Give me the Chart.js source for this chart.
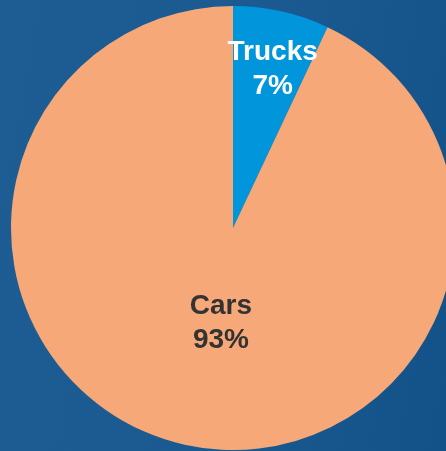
<!DOCTYPE html>
<html>
<head>
<meta charset="utf-8">
<script src="https://cdn.jsdelivr.net/npm/chart.js@4"></script>
<style>
  html, body {
    margin: 0;
    padding: 0;
    width: 446px;
    height: 451px;
    overflow: hidden;
    background: linear-gradient(100deg, #1d5d93 0%, #1a5a90 55%, #125288 100%);
  }
  #wrap {
    position: absolute;
    left: 0;
    top: 0;
    width: 466px;
    height: 456px;
  }
</style>
</head>
<body>
<div id="wrap"><canvas id="pieChart" width="466" height="456"></canvas></div>
<script>
const labels = ['Trucks', 'Cars'];
const shares = [7, 93];
const sliceColors = ['#0196db', '#f6a878'];
const labelColors = ['#ffffff', '#333333'];

// where to put the text inside each slice (fraction of radius, angle nudge in degrees)
const labelRadius = [0.76, 0.41];
const labelNudge = [1, -5];

const sliceLabels = {
  id: 'sliceLabels',
  afterDatasetsDraw(chart) {
    const c = chart.ctx;
    const arcs = chart.getDatasetMeta(0).data;
    c.save();
    c.font = 'bold 28px "Liberation Sans", Arial, sans-serif';
    c.textAlign = 'center';
    c.textBaseline = 'alphabetic';
    arcs.forEach((arc, i) => {
      const p = arc.getProps(['x', 'y', 'startAngle', 'endAngle', 'outerRadius']);
      const mid = (p.startAngle + p.endAngle) / 2 + labelNudge[i] * Math.PI / 180;
      const r = p.outerRadius * labelRadius[i];
      const x = p.x + Math.cos(mid) * r;
      const y = p.y + Math.sin(mid) * r;
      c.fillStyle = labelColors[i];
      c.fillText(labels[i], x, y - 4);
      c.fillText(shares[i] + '%', x, y + 30);
    });
    c.restore();
  }
};

new Chart(document.getElementById('pieChart').getContext('2d'), {
  type: 'pie',
  data: {
    labels: labels,
    datasets: [{
      data: shares,
      backgroundColor: sliceColors,
      borderWidth: 0
    }]
  },
  options: {
    responsive: false,
    animation: false,
    layout: {
      padding: { left: 11, top: 6, right: 11, bottom: 6 }
    },
    plugins: {
      legend: { display: false },
      tooltip: { enabled: false }
    }
  },
  plugins: [sliceLabels]
});
</script>
</body>
</html>
